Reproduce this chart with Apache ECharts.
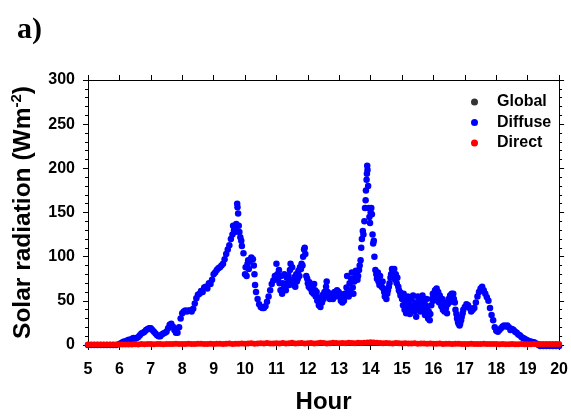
<!DOCTYPE html>
<html>
<head>
<meta charset="utf-8">
<script src="https://cdn.jsdelivr.net/npm/echarts@6/dist/echarts.min.js"></script>
<style>
html,body{margin:0;padding:0;background:#fff;}
#main{width:571px;height:419px;}
</style>
</head>
<body>
<div id="main"></div>
<script>
// ---- data ----
const seriesNames = ['Global', 'Diffuse', 'Direct'];
const xTicks = [5, 20, 1];      // min, max, step (hour)
const yTicks = [0, 300, 50];    // min, max, step
const globalPoints = [];        // no visible Global points in the reference
const diffusePoints = [
[5.0,0],[5.1,0],[5.2,0],[5.3,0],[5.4,0],[5.5,0],[5.6,0],[5.7,0],[5.8,0],[5.9,0],
[6.00,1],[6.05,2],[6.10,3],[6.15,4],[6.20,4],[6.25,5],[6.30,6],[6.35,5],[6.40,7],[6.45,8],[6.50,7],[6.55,8],[6.60,9],[6.65,11],[6.70,13],[6.75,14],[6.80,15],[6.85,17],[6.90,18],[6.95,19],
[7.00,19],[7.05,17],[7.10,15],[7.15,13],[7.20,11],[7.25,10],[7.30,10],[7.35,12],[7.40,13],[7.45,14],[7.50,15],[7.55,19],[7.60,23],[7.65,24],[7.70,21],[7.75,17],[7.80,14],[7.85,14],[7.90,20],[7.95,30],
[8.00,36],[8.05,38],[8.10,39],[8.15,38],[8.20,39],[8.25,39],[8.30,38],[8.35,41],[8.40,47],[8.45,53],[8.50,57],[8.55,58],[8.60,61],[8.65,60],[8.70,65],[8.75,66],[8.80,64],[8.85,70],[8.90,69],[8.95,74],
[9.00,80],[9.05,82],[9.10,85],[9.15,87],[9.20,88],[9.25,90],[9.30,92],[9.35,97],[9.40,103],[9.45,108],[9.50,113],[9.55,120],[9.60,125],[9.62,135],[9.65,130],[9.68,128],[9.70,133],[9.72,137],[9.75,160],[9.76,156],[9.78,149],[9.80,135],[9.82,128],[9.85,122],[9.88,118],[9.90,112],[9.95,104],
[10.00,80],[10.02,88],[10.05,78],[10.08,92],[10.10,96],[10.12,86],[10.15,95],[10.20,99],[10.25,97],[10.28,90],[10.30,80],[10.32,68],[10.35,60],[10.40,52],[10.45,46],[10.50,43],[10.55,42],[10.60,42],[10.65,44],[10.70,49],[10.75,55],[10.80,62],[10.85,69],[10.90,73],[10.95,78],
[11.00,92],[11.03,80],[11.05,74],[11.08,85],[11.10,70],[11.13,62],[11.15,78],[11.18,58],[11.20,70],[11.23,64],[11.25,80],[11.28,66],[11.30,62],[11.33,76],[11.35,70],[11.38,79],[11.40,68],[11.43,85],[11.45,92],[11.48,74],[11.50,88],[11.53,72],[11.55,68],[11.58,77],[11.60,66],[11.63,80],[11.65,72],[11.68,75],[11.70,84],[11.73,78],[11.75,88],[11.78,86],[11.80,92],[11.83,90],[11.85,100],[11.88,108],[11.90,110],[11.92,103],[11.95,78],[11.98,75],
[12.00,70],[12.03,66],[12.05,71],[12.08,64],[12.10,68],[12.13,60],[12.15,66],[12.18,58],[12.20,69],[12.23,62],[12.25,55],[12.28,60],[12.30,50],[12.33,54],[12.35,45],[12.38,48],[12.40,43],[12.43,52],[12.45,48],[12.48,57],[12.50,52],[12.53,60],[12.55,56],[12.58,66],[12.60,72],[12.63,60],[12.65,55],[12.68,58],[12.70,52],[12.73,57],[12.75,54],[12.78,58],[12.80,52],[12.83,57],[12.85,60],[12.88,55],[12.90,58],[12.93,62],[12.95,57],[12.98,60],
[13.00,55],[13.03,58],[13.05,50],[13.08,56],[13.10,48],[13.13,55],[13.15,50],[13.18,58],[13.20,56],[13.23,65],[13.25,78],[13.28,62],[13.30,55],[13.33,70],[13.35,60],[13.38,75],[13.40,82],[13.43,65],[13.45,58],[13.48,72],[13.50,76],[13.53,84],[13.55,80],[13.58,74],[13.60,78],[13.63,85],[13.65,90],[13.68,96],[13.70,110],[13.72,120],[13.75,129],[13.77,125],[13.80,140],[13.82,155],[13.84,164],[13.85,175],[13.87,187],[13.88,194],[13.89,203],[13.90,198],[13.92,180],[13.94,155],[13.96,145],[13.98,138],
[14.00,150],[14.02,155],[14.04,148],[14.06,125],[14.08,115],[14.10,118],[14.12,100],[14.15,85],[14.18,80],[14.20,75],[14.23,82],[14.25,72],[14.28,68],[14.30,78],[14.33,70],[14.35,66],[14.38,72],[14.40,64],[14.43,60],[14.45,55],[14.48,60],[14.50,52],[14.53,58],[14.55,62],[14.58,66],[14.60,70],[14.63,76],[14.65,80],[14.68,86],[14.70,82],[14.73,78],[14.75,86],[14.78,74],[14.80,80],[14.83,70],[14.85,76],[14.88,66],[14.90,62],[14.93,60],[14.95,56],
[15.00,52],[15.03,45],[15.05,58],[15.08,40],[15.10,50],[15.13,36],[15.15,48],[15.18,55],[15.20,42],[15.23,50],[15.25,35],[15.28,45],[15.30,52],[15.33,40],[15.35,56],[15.38,44],[15.40,38],[15.43,48],[15.45,32],[15.48,45],[15.50,55],[15.53,42],[15.55,50],[15.58,38],[15.60,52],[15.63,45],[15.65,56],[15.68,40],[15.70,48],[15.73,34],[15.75,45],[15.78,52],[15.80,40],[15.83,30],[15.85,38],[15.88,28],[15.90,35],[15.93,45],[15.95,52],[15.98,58],
[16.00,50],[16.03,58],[16.05,62],[16.08,55],[16.10,64],[16.13,52],[16.15,60],[16.18,48],[16.20,56],[16.23,50],[16.25,44],[16.28,52],[16.30,40],[16.33,48],[16.35,38],[16.38,45],[16.40,42],[16.43,36],[16.45,46],[16.48,52],[16.50,48],[16.53,56],[16.55,50],[16.58,58],[16.60,54],[16.63,58],[16.65,52],[16.68,48],[16.70,40],[16.73,35],[16.75,30],[16.78,26],[16.80,24],[16.83,22],[16.85,24],[16.88,28],[16.90,32],[16.93,36],[16.95,40],
[17.00,43],[17.05,46],[17.10,45],[17.15,42],[17.20,38],[17.25,40],[17.30,42],[17.35,48],[17.40,55],[17.45,60],[17.50,64],[17.55,66],[17.60,62],[17.65,58],[17.70,54],[17.75,50],[17.80,42],[17.85,34],[17.90,28],[17.95,20],
[18.00,16],[18.05,15],[18.10,17],[18.15,19],[18.20,21],[18.25,22],[18.30,21],[18.35,22],[18.40,20],[18.45,17],[18.50,18],[18.55,17],[18.60,15],[18.65,14],[18.70,12],[18.75,11],[18.80,9],[18.85,8],[18.90,7],[18.95,6],
[19.00,5],[19.05,4],[19.10,4],[19.15,3],[19.20,3],[19.25,2],[19.30,1],[19.35,0],[19.4,-1],[19.5,-1],[19.6,-1],[19.7,-1],[19.8,-1],[19.9,-1],[20.0,-1]
];
const directHours = [
5.0,5.1,5.2,5.3,5.4,5.5,5.6,5.7,5.8,5.9,6.0,6.1,6.2,6.3,6.4,6.5,6.6,6.7,6.8,6.9,
7.0,7.1,7.2,7.3,7.4,7.5,7.6,7.7,7.8,7.9,8.0,8.1,8.2,8.3,8.4,8.5,8.6,8.7,8.8,8.9,
9.0,9.1,9.2,9.3,9.4,9.5,9.6,9.7,9.8,9.9,10.0,10.1,10.2,10.3,10.4,10.5,10.6,10.7,10.8,10.9,
11.0,11.1,11.2,11.3,11.4,11.5,11.6,11.7,11.8,11.9,12.0,12.1,12.2,12.3,12.4,12.5,12.6,12.7,12.8,12.9,
13.0,13.1,13.2,13.3,13.4,13.5,13.6,13.7,13.8,13.9,14.0,14.1,14.2,14.3,14.4,14.5,14.6,14.7,14.8,14.9,
15.0,15.1,15.2,15.3,15.4,15.5,15.6,15.7,15.8,15.9,16.0,16.1,16.2,16.3,16.4,16.5,16.6,16.7,16.8,16.9,
17.0,17.1,17.2,17.3,17.4,17.5,17.6,17.7,17.8,17.9,18.0,18.1,18.2,18.3,18.4,18.5,18.6,18.7,18.8,18.9,
19.0,19.1,19.2,19.3,19.4,19.5,19.6,19.7,19.8,19.9,20.0
];
const directValues = [
0.5,0.5,0.5,0.5,0.5,0.5,0.5,0.5,0.5,0.5, 0.5,0.5,0.6,0.7,0.6,0.9,0.7,1,0.8,1,
1,0.8,1.2,1,0.8,1,1.2,1,1.5,1.2, 1.2,1,1.5,1.2,1,1.3,1.5,1.2,1,1.5,
1.2,1.5,1.3,1,1.5,1.8,1.2,1.5,1.3,1.8, 1.5,1.8,2,1.5,1.7,2,1.8,2.2,1.6,1.8,
2,1.8,2.2,1.6,2,2.5,1.8,2,2.2,1.8, 2,2.3,1.8,2,2.5,2.2,1.8,2,2.5,2.2,
2,2.4,2,2.5,2.2,2,2.5,2.3,2.6,2.8, 3,2.8,2.5,2.2,2,2.3,2,1.8,2.2,2,
1.8,2,1.6,1.8,2,1.5,1.8,1.6,1.4,1.6, 1.5,1.3,1.6,1.2,1.4,1.5,1.2,1.3,1.5,1.2,
1.2,1,1.3,1.2,1,1.2,1.4,1,1.1,1, 1,0.8,1,0.9,0.8,1,0.8,0.9,1,0.8,
0.8,0.9,1,0.8,1,1,1.2,1,1,1.1,1
];

const directPoints = directHours.map((h, i) => [h, directValues[i]]);

const chart = echarts.init(document.getElementById('main'), null, {renderer: 'canvas'});
const fam = 'Liberation Sans, Arial, sans-serif';
const tickFont = {fontFamily: fam, fontWeight: 'bold', fontSize: 16, color: '#000'};
const axisLine = {show: true, onZero: false, lineStyle: {color: '#000', width: 1}};

chart.setOption({
  animation: false,
  backgroundColor: '#fff',
  grid: {left: 88, right: 8, top: 80, bottom: 70, containLabel: false},
  graphic: [{
    type: 'text', left: 17, top: 15,
    style: {text: 'a)', font: 'bold 30px "Liberation Serif", "Times New Roman", serif', fill: '#000'}
  }],
  legend: {
    orient: 'vertical', left: 466, top: 89, itemGap: 4.5,
    itemWidth: 7, itemHeight: 7,
    data: seriesNames.map(n => ({name: n, icon: 'circle'})),
    textStyle: {fontFamily: fam, fontWeight: 'bold', fontSize: 16, color: '#000', padding: [0, 0, 0, 14]}
  },
  xAxis: [{
    type: 'value', min: xTicks[0], max: xTicks[1], interval: xTicks[2],
    position: 'bottom',
    name: 'Hour', nameLocation: 'middle', nameGap: 45,
    nameTextStyle: {fontFamily: fam, fontWeight: 'bold', fontSize: 24, color: '#000'},
    axisLine: axisLine,
    axisTick: {show: true, inside: false, length: 5, lineStyle: {color: '#000'}},
    axisLabel: Object.assign({margin: 17}, tickFont),
    splitLine: {show: false}
  }, {
    type: 'value', min: xTicks[0], max: xTicks[1], interval: xTicks[2],
    position: 'top',
    axisLine: axisLine,
    axisTick: {show: true, inside: false, length: 5, lineStyle: {color: '#000'}},
    axisLabel: {show: false},
    splitLine: {show: false}
  }],
  yAxis: [{
    type: 'value', min: yTicks[0], max: yTicks[1], interval: yTicks[2],
    position: 'left',
    name: '{t|Solar radiation (Wm}{s|-2}{t|)}', nameLocation: 'middle', nameGap: 51,
    nameTextStyle: {
      rich: {
        t: {fontFamily: fam, fontWeight: 'bold', fontSize: 24.5, color: '#000', lineHeight: 28},
        s: {fontFamily: fam, fontWeight: 'bold', fontSize: 15, color: '#000', lineHeight: 28, verticalAlign: 'top'}
      }
    },
    axisLine: axisLine,
    axisTick: {show: true, inside: false, length: 5, lineStyle: {color: '#000'}},
    minorTick: {show: true, splitNumber: 5, length: 3, lineStyle: {color: '#000'}},
    axisLabel: Object.assign({margin: 13}, tickFont),
    splitLine: {show: false}
  }, {
    type: 'value', min: yTicks[0], max: yTicks[1], interval: yTicks[2],
    position: 'right',
    axisLine: axisLine,
    axisTick: {show: true, inside: false, length: 5, lineStyle: {color: '#000'}},
    minorTick: {show: true, splitNumber: 5, length: 3, lineStyle: {color: '#000'}},
    axisLabel: {show: false},
    splitLine: {show: false}
  }],
  series: [{
    name: seriesNames[0], type: 'scatter', xAxisIndex: 0, yAxisIndex: 0,
    symbolSize: 6, itemStyle: {color: '#000'}, data: globalPoints
  }, {
    name: seriesNames[1], type: 'scatter', xAxisIndex: 0, yAxisIndex: 0, clip: false,
    symbolSize: 6.5, itemStyle: {color: '#0000ff', opacity: 1}, data: diffusePoints
  }, {
    name: seriesNames[2], type: 'scatter', xAxisIndex: 0, yAxisIndex: 0, clip: false,
    symbolSize: 6, itemStyle: {color: '#ff0000', opacity: 1}, data: directPoints
  }]
});
</script>
</body>
</html>
